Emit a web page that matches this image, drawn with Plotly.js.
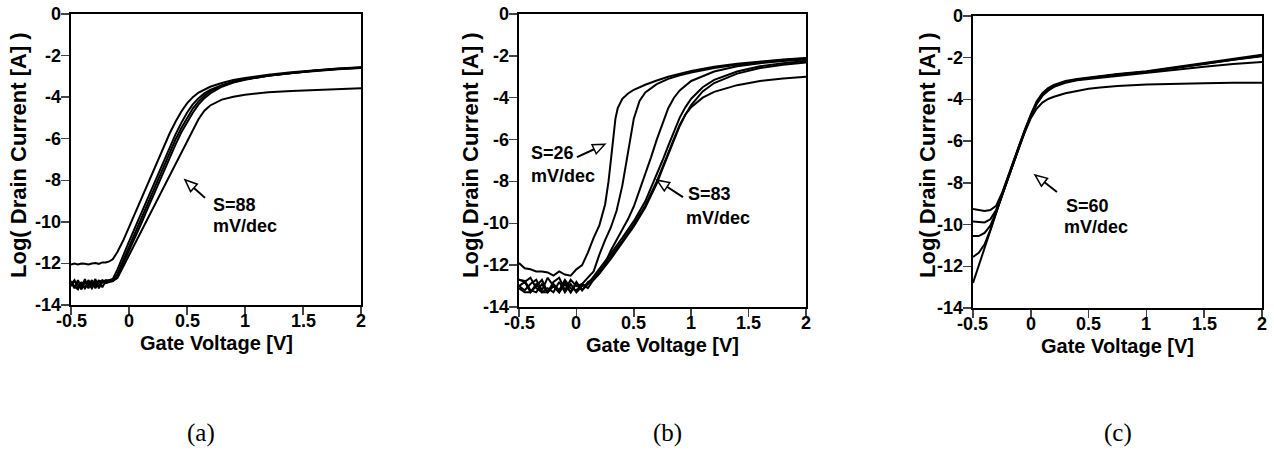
<!DOCTYPE html>
<html>
<head>
<meta charset="utf-8">
<script src="https://cdn.plot.ly/plotly-3.0.1.min.js"></script>
<style>html,body{margin:0;padding:0;background:#fff;}#chart{width:1274px;height:450px;}</style>
</head>
<body>
<div id="chart"></div>
<script>
// ---------- tick labels ----------
const xTickVals = [-0.5, 0, 0.5, 1, 1.5, 2];
const xTickText = ['-0.5', '0', '0.5', '1', '1.5', '2'];
const yTickVals = [-14, -12, -10, -8, -6, -4, -2, 0];
const yTickText = ['-14', '-12', '-10', '-8', '-6', '-4', '-2', '0'];
const xTitle = 'Gate Voltage [V]';
const yTitle = 'Log( Drain Current [A] )';
const panelLabels = ['(a)', '(b)', '(c)'];

// ---------- panel (a) ----------
const aX = [-0.5,-0.47,-0.44,-0.41,-0.38,-0.35,-0.32,-0.29,-0.26,-0.23,-0.2,-0.17,-0.14,-0.1,-0.05,0,0.05,0.1,0.15,0.2,0.25,0.3,0.35,0.4,0.45,0.5,0.55,0.6,0.65,0.7,0.8,0.9,1,1.2,1.4,1.6,1.8,2];
const a1Y = [-12.05,-12.0,-12.05,-12.0,-12.02,-12.05,-12.0,-11.98,-12.02,-11.95,-11.95,-11.9,-11.8,-11.45,-10.9,-10.25,-9.6,-8.95,-8.3,-7.65,-7.0,-6.35,-5.75,-5.2,-4.7,-4.3,-4.0,-3.78,-3.62,-3.5,-3.32,-3.18,-3.08,-2.92,-2.8,-2.7,-2.62,-2.56];
const a2Y = [-12.9,-13.2,-12.8,-13.15,-12.75,-13.2,-12.85,-13.1,-12.8,-13.15,-12.85,-12.8,-12.75,-12.3,-11.6,-10.95,-10.3,-9.65,-9.0,-8.35,-7.7,-7.05,-6.4,-5.8,-5.25,-4.75,-4.35,-4.05,-3.82,-3.65,-3.42,-3.26,-3.14,-2.97,-2.84,-2.74,-2.66,-2.6];
const a3Y = [-13.0,-12.8,-13.2,-12.9,-13.2,-12.8,-13.1,-12.75,-13.2,-12.9,-12.8,-12.85,-12.8,-12.5,-11.85,-11.2,-10.55,-9.9,-9.25,-8.6,-7.95,-7.3,-6.65,-6.05,-5.5,-5.0,-4.55,-4.2,-3.93,-3.72,-3.45,-3.27,-3.14,-2.96,-2.83,-2.73,-2.65,-2.59];
const a4Y = [-13.1,-12.85,-13.0,-13.25,-12.9,-13.1,-12.8,-13.2,-12.9,-12.8,-12.9,-12.8,-12.85,-12.6,-12.0,-11.4,-10.8,-10.15,-9.5,-8.85,-8.2,-7.55,-6.9,-6.3,-5.7,-5.2,-4.75,-4.35,-4.05,-3.82,-3.5,-3.3,-3.16,-2.97,-2.83,-2.72,-2.64,-2.57];
const a5Y = [-12.85,-13.1,-13.25,-12.9,-13.2,-12.95,-13.2,-12.9,-13.1,-12.85,-12.95,-12.9,-12.85,-12.7,-12.15,-11.6,-11.05,-10.5,-9.95,-9.4,-8.85,-8.3,-7.75,-7.2,-6.65,-6.1,-5.55,-5.05,-4.65,-4.4,-4.12,-3.98,-3.88,-3.77,-3.7,-3.65,-3.6,-3.57];

// ---------- panel (b) ----------
const b1X = [-0.5,-0.45,-0.4,-0.35,-0.3,-0.25,-0.2,-0.15,-0.1,-0.05,0,0.05,0.1,0.15,0.2,0.25,0.28,0.3,0.32,0.34,0.36,0.4,0.45,0.5,0.6,0.7,0.8,1,1.2,1.4,1.6,1.8,2];
const b1Y = [-11.9,-12.15,-12.2,-12.3,-12.3,-12.35,-12.5,-12.3,-12.45,-12.5,-12.2,-12.0,-11.4,-10.7,-10.1,-9.1,-8.0,-7.1,-6.0,-5.0,-4.5,-4.05,-3.8,-3.62,-3.38,-3.18,-3.0,-2.72,-2.52,-2.38,-2.27,-2.17,-2.1];
const b2X = [-0.5,-0.45,-0.4,-0.35,-0.3,-0.25,-0.2,-0.15,-0.1,-0.05,0,0.05,0.1,0.15,0.2,0.25,0.3,0.35,0.4,0.45,0.5,0.55,0.6,0.7,0.8,0.9,1,1.2,1.4,1.6,1.8,2];
const b2Y = [-12.7,-12.8,-12.6,-13.1,-13.3,-13.3,-12.8,-12.6,-13.2,-12.7,-13.0,-12.9,-12.6,-12.3,-11.5,-10.8,-10.2,-9.4,-8.2,-6.6,-5.0,-4.15,-3.75,-3.35,-3.1,-2.93,-2.8,-2.58,-2.42,-2.3,-2.2,-2.12];
const b3X = [-0.5,-0.45,-0.4,-0.35,-0.3,-0.25,-0.2,-0.15,-0.1,-0.05,0,0.05,0.1,0.15,0.2,0.25,0.3,0.35,0.4,0.45,0.5,0.55,0.6,0.65,0.7,0.75,0.8,0.85,0.9,1,1.2,1.4,1.6,1.8,2];
const b3Y = [-13.0,-13.2,-12.9,-12.7,-13.2,-12.6,-13.0,-13.3,-12.8,-13.3,-12.9,-13.2,-12.9,-12.7,-12.4,-11.9,-11.3,-10.8,-10.35,-9.8,-9.2,-8.45,-7.7,-6.85,-6.0,-5.2,-4.5,-4.0,-3.65,-3.2,-2.75,-2.5,-2.35,-2.25,-2.18];
const b4X = [-0.5,-0.45,-0.4,-0.35,-0.3,-0.25,-0.2,-0.15,-0.1,-0.05,0,0.05,0.1,0.15,0.2,0.3,0.4,0.5,0.6,0.7,0.75,0.8,0.85,0.9,0.95,1,1.1,1.2,1.4,1.6,1.8,2];
const b4Y = [-13.1,-13.3,-13.3,-12.9,-13.3,-13.1,-13.3,-12.8,-13.3,-12.9,-13.3,-13.0,-12.9,-12.55,-12.2,-11.45,-10.7,-9.9,-8.95,-7.7,-7.0,-6.3,-5.6,-4.95,-4.45,-4.05,-3.5,-3.15,-2.75,-2.5,-2.35,-2.25];
const b5Y = [-12.7,-12.75,-13.2,-13.3,-12.9,-13.3,-13.0,-13.3,-12.9,-13.3,-12.8,-13.2,-12.8,-12.65,-12.3,-11.6,-10.85,-10.05,-9.15,-8.0,-7.35,-6.65,-5.95,-5.3,-4.8,-4.45,-4.0,-3.72,-3.4,-3.2,-3.08,-3.0];
const b6Y = [-13.0,-12.8,-13.3,-13.0,-12.7,-13.3,-12.9,-13.2,-12.7,-13.1,-13.2,-12.9,-13.1,-12.7,-12.4,-11.7,-10.95,-10.15,-9.25,-8.1,-7.4,-6.7,-6.0,-5.35,-4.8,-4.35,-3.7,-3.3,-2.85,-2.58,-2.42,-2.32];

// ---------- panel (c) ----------
const cX = [-0.5,-0.45,-0.4,-0.35,-0.3,-0.25,-0.2,-0.15,-0.1,-0.05,0,0.05,0.1,0.15,0.2,0.3,0.4,0.5,0.6,0.75,1,1.25,1.5,1.75,2];
const c1Y = [-9.25,-9.3,-9.35,-9.3,-9.1,-8.5,-7.72,-6.93,-6.18,-5.43,-4.72,-4.1,-3.7,-3.45,-3.3,-3.12,-3.02,-2.95,-2.87,-2.78,-2.65,-2.45,-2.25,-2.05,-1.86];
const c2Y = [-9.85,-9.88,-9.9,-9.75,-9.3,-8.58,-7.76,-6.96,-6.2,-5.45,-4.76,-4.16,-3.77,-3.52,-3.36,-3.16,-3.05,-2.98,-2.9,-2.8,-2.67,-2.48,-2.28,-2.08,-1.9];
const c3Y = [-10.55,-10.55,-10.4,-10.05,-9.4,-8.6,-7.78,-6.98,-6.22,-5.48,-4.8,-4.2,-3.8,-3.55,-3.38,-3.17,-3.06,-2.99,-2.91,-2.81,-2.68,-2.5,-2.3,-2.1,-1.93];
const c4Y = [-11.55,-11.35,-10.95,-10.25,-9.42,-8.62,-7.8,-7.0,-6.25,-5.5,-4.82,-4.23,-3.83,-3.58,-3.4,-3.2,-3.08,-3.02,-2.95,-2.86,-2.73,-2.58,-2.43,-2.3,-2.2];
const c5Y = [-12.8,-11.95,-11.1,-10.22,-9.42,-8.62,-7.82,-7.02,-6.28,-5.55,-4.9,-4.45,-4.15,-3.98,-3.87,-3.7,-3.58,-3.49,-3.43,-3.36,-3.28,-3.24,-3.22,-3.2,-3.2];

// ---------- annotation labels ----------
const sLabels = ['S=88', 'S=26', 'S=83', 'S=60'];
const unitLabel = 'mV/dec';

// ---------- layout geometry (pixels) ----------
const W = 1274, H = 450;
const panels = [
  {k: '',  px: [71, 361],  py: [14, 305]},
  {k: '2', px: [519, 806], py: [14, 307]},
  {k: '3', px: [973, 1262], py: [16, 308]}
];
const curves = [
  [[aX, a1Y], [aX, a2Y], [aX, a3Y], [aX, a4Y], [aX, a5Y]],
  [[b1X, b1Y], [b2X, b2Y], [b3X, b3Y], [b4X, b4Y], [b4X, b5Y], [b4X, b6Y]],
  [[cX, c1Y], [cX, c2Y], [cX, c3Y], [cX, c4Y], [cX, c5Y]]
];

const FONT = 'Liberation Sans, Arial, Helvetica, sans-serif';
const BOLD = (size) => ({family: FONT, size: size, color: '#000', weight: 700});
const data = [];
curves.forEach((set, i) => {
  set.forEach(c => {
    data.push({
      x: c[0], y: c[1], type: 'scatter', mode: 'lines',
      xaxis: 'x' + panels[i].k, yaxis: 'y' + panels[i].k,
      line: {color: '#000', width: 2}, hoverinfo: 'skip', showlegend: false
    });
  });
});

const layout = {
  width: W, height: H, margin: {l: 0, r: 0, t: 0, b: 0},
  paper_bgcolor: '#fff', plot_bgcolor: '#fff', showlegend: false,
  font: {family: FONT, size: 18, color: '#000'},
  annotations: [], shapes: []
};

panels.forEach((p, i) => {
  layout['xaxis' + p.k] = {
    domain: [p.px[0] / W, p.px[1] / W], range: [-0.5, 2], anchor: 'y' + p.k,
    tickmode: 'array', tickvals: xTickVals, showticklabels: false, ticks: 'outside', ticklen: 8, tickwidth: 1.5,
    showline: true, linewidth: 2, linecolor: '#000', mirror: true, showgrid: false, zeroline: false,
    automargin: false, fixedrange: true
  };
  layout['yaxis' + p.k] = {
    domain: [1 - p.py[1] / H, 1 - p.py[0] / H], range: [-14, 0], anchor: 'x' + p.k,
    tickmode: 'array', tickvals: yTickVals, showticklabels: false, ticks: 'outside', ticklen: 8, tickwidth: 1.5,
    showline: true, linewidth: 2, linecolor: '#000', mirror: true, showgrid: false, zeroline: false,
    automargin: false, fixedrange: true
  };
  // tick labels as text placed through the axes' own scales
  xTickVals.forEach((v, j) => {
    layout.annotations.push({
      xref: 'x' + p.k, yref: 'paper', x: v, y: 1 - (p.py[1] + 16) / H,
      text: xTickText[j], showarrow: false, xanchor: 'center', yanchor: 'middle',
      font: BOLD(18), borderpad: 0
    });
  });
  yTickVals.forEach((v, j) => {
    layout.annotations.push({
      xref: 'paper', yref: 'y' + p.k, x: (p.px[0] - 9) / W, y: v,
      text: yTickText[j], showarrow: false, xanchor: 'right', yanchor: 'middle',
      font: BOLD(18), borderpad: 0
    });
  });
});

// axis titles & panel labels (paper coords from pixels)
const yTitleX = [18, 470, 927];
const panelLabelX = [201, 667, 1118];
panels.forEach((p, i) => {
  layout.annotations.push({
    xref: 'paper', yref: 'paper', x: yTitleX[i] / W, y: 1 - 155 / H,
    text: yTitle, textangle: -90, showarrow: false, xanchor: 'center', yanchor: 'middle',
    font: BOLD(22), borderpad: 0
  });
  layout.annotations.push({
    xref: 'paper', yref: 'paper', x: (p.px[0] + p.px[1]) / 2 / W, y: 1 - (p.py[1] + 38) / H,
    text: xTitle, showarrow: false, xanchor: 'center', yanchor: 'middle',
    font: BOLD(20), borderpad: 0
  });
  layout.annotations.push({
    xref: 'paper', yref: 'paper', x: panelLabelX[i] / W, y: 1 / H,
    text: panelLabels[i], showarrow: false, xanchor: 'center', yanchor: 'bottom',
    font: {family: 'Liberation Serif, Times New Roman, serif', size: 25, color: '#000', weight: 400}
  });
});

// S labels (panel index, label, x, y of the two text lines)
const sText = [
  {pi: 0, s: 0, x: 0.716, y1: -9.18, x2: 0.716, y2: -10.19},
  {pi: 1, s: 1, x: -0.404, y1: -6.62, x2: -0.404, y2: -7.72},
  {pi: 1, s: 2, x: 0.963, y1: -8.59, x2: 0.946, y2: -9.74},
  {pi: 2, s: 3, x: 0.296, y1: -9.13, x2: 0.279, y2: -10.14}
];
sText.forEach(t => {
  const k = panels[t.pi].k;
  layout.annotations.push({xref: 'x' + k, yref: 'y' + k, x: t.x, y: t.y1, text: sLabels[t.s],
    showarrow: false, xanchor: 'left', yanchor: 'middle', font: BOLD(18), borderpad: 0});
  layout.annotations.push({xref: 'x' + k, yref: 'y' + k, x: t.x2, y: t.y2, text: unitLabel,
    showarrow: false, xanchor: 'left', yanchor: 'middle', font: BOLD(18), borderpad: 0});
});

// arrows: head in data coords, tail offset in screen pixels (y down)
const arrows = [
  {pi: 0, x: 0.483, y: -7.98, ax: 20, ay: 18},
  {pi: 1, x: 0.249, y: -6.22, ax: -28, ay: 13},
  {pi: 1, x: 0.702, y: -7.94, ax: 26, ay: 17},
  {pi: 2, x: 0.036, y: -7.62, ax: 22, ay: 17}
];
const L = 12, HW = 5;
arrows.forEach(a => {
  const k = panels[a.pi].k;
  const tx = a.ax, ty = -a.ay;
  const len = Math.hypot(tx, ty);
  const ux = -tx / len, uy = -ty / len;
  const bx = -L * ux, by = -L * uy;
  const qx = -uy, qy = ux;
  const f = v => v.toFixed(2);
  layout.shapes.push({
    type: 'path', xref: 'x' + k, yref: 'y' + k, xsizemode: 'pixel', ysizemode: 'pixel',
    xanchor: a.x, yanchor: a.y,
    path: `M${f(tx)},${f(ty)} L${f(bx)},${f(by)}`,
    line: {color: '#000', width: 2}
  });
  layout.shapes.push({
    type: 'path', xref: 'x' + k, yref: 'y' + k, xsizemode: 'pixel', ysizemode: 'pixel',
    xanchor: a.x, yanchor: a.y,
    path: `M0,0 L${f(bx + HW * qx)},${f(by + HW * qy)} L${f(bx - HW * qx)},${f(by - HW * qy)} Z`,
    fillcolor: '#fff', line: {color: '#000', width: 1.5}
  });
});

Plotly.newPlot('chart', data, layout, {staticPlot: true, displayModeBar: false});
</script>
</body>
</html>
